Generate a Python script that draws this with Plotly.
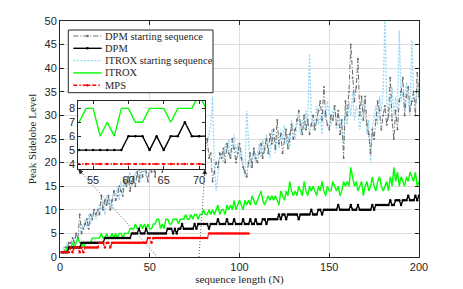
import plotly.graph_objects as go

# ---------------- data ----------------
N = list(range(1, 201))

dpm_start = [
    1, 1, 2, 2, 3, 3, 4, 3, 5, 4,
    9, 5, 6, 7, 8, 6, 9, 8, 10, 9,
    10, 9, 13, 10, 12, 11, 13, 10, 12, 14,
    12, 13, 15, 14, 13, 16, 15, 17, 14, 16,
    17, 15, 18, 16, 19, 17, 20, 18, 16, 19,
    18, 20, 17, 21, 19, 22, 18, 20, 21, 19,
    22, 20, 23, 21, 24, 20, 22, 25, 21, 23,
    24, 22, 26, 23, 21, 25, 27, 22, 24, 26,
    23, 25, 21, 22, 16, 18, 20, 19, 22, 21,
    23, 20, 24, 22, 21, 25, 23, 20, 22, 24,
    21, 19, 18, 17, 20, 22, 19, 23, 21, 20,
    22, 24, 21, 23, 25, 22, 26, 24, 27, 23,
    29, 24, 26, 22, 25, 27, 23, 26, 28, 25,
    27, 29, 31, 28, 26, 30, 27, 29, 26, 28,
    30, 27, 29, 31, 33, 29, 36, 30, 28, 27,
    30, 29, 32, 28, 31, 26, 29, 21, 33, 30,
    35, 45, 38, 33, 36, 42, 30, 34, 29, 34,
    28, 26, 22, 27, 25, 29, 33, 31, 27, 30,
    32, 28, 30, 38, 29, 25, 31, 27, 33, 35,
    38, 30, 34, 36, 31, 33, 35, 30, 39, 34,
]

dpm = [
    1, 1, 1, 1, 2, 2, 2, 2, 2, 2,
    2, 3, 3, 3, 3, 3, 3, 3, 3, 3,
    3, 3, 3, 3, 4, 4, 4, 4, 4, 4,
    4, 4, 4, 4, 4, 4, 4, 4, 4, 5,
    5, 5, 5, 6, 5, 5, 5, 6, 5, 5,
    5, 5, 5, 5, 5, 5, 5, 5, 5, 6,
    6, 6, 5, 6, 5, 6, 6, 7, 6, 6,
    6, 6, 6, 6, 7, 6, 7, 7, 7, 7,
    7, 7, 6, 7, 7, 7, 7, 8, 7, 7,
    7, 7, 8, 7, 7, 7, 8, 7, 7, 7,
    7, 8, 7, 7, 7, 8, 7, 7, 8, 7,
    7, 7, 8, 8, 7, 8, 8, 8, 8, 8,
    8, 9, 8, 9, 9, 8, 9, 9, 9, 9,
    9, 9, 8, 9, 9, 9, 9, 9, 9, 10,
    9, 9, 9, 10, 10, 9, 10, 10, 10, 10,
    10, 10, 10, 10, 11, 10, 10, 10, 10, 10,
    10, 11, 10, 10, 10, 11, 10, 10, 10, 10,
    10, 10, 10, 11, 10, 11, 11, 11, 11, 11,
    11, 11, 11, 12, 11, 11, 12, 12, 12, 11,
    12, 12, 12, 13, 12, 12, 12, 13, 12, 13,
]

itrox_start = [
    1, 2, 2, 3, 2, 3, 3, 4, 4, 5,
    5, 7, 6, 8, 6, 9, 7, 8, 10, 8,
    9, 11, 10, 12, 9, 13, 11, 12, 10, 14,
    13, 15, 12, 16, 14, 17, 15, 16, 18, 15,
    16, 18, 17, 19, 16, 20, 18, 17, 21, 19,
    20, 18, 22, 19, 21, 23, 20, 22, 19, 24,
    21, 23, 20, 25, 22, 24, 21, 26, 23, 25,
    22, 27, 24, 23, 26, 25, 28, 24, 23, 27,
    25, 24, 26, 28, 34, 19, 14, 18, 21, 22,
    20, 24, 22, 25, 21, 23, 26, 22, 24, 21,
    23, 20, 17, 31, 25, 19, 21, 23, 20, 22,
    24, 21, 25, 22, 26, 23, 21, 27, 24, 22,
    26, 23, 27, 25, 28, 24, 26, 23, 29, 27,
    25, 28, 30, 26, 29, 27, 31, 28, 43, 30,
    27, 29, 32, 28, 30, 26, 31, 29, 33, 30,
    28, 31, 32, 27, 30, 29, 26, 24, 31, 28,
    33, 30, 35, 29, 32, 31, 27, 30, 33, 31,
    26, 29, 20, 27, 30, 32, 28, 34, 31, 35,
    50, 33, 29, 32, 36, 30, 34, 31, 48, 33,
    35, 31, 37, 33, 30, 46, 34, 32, 36, 35,
]

itrox = [
    1, 1, 1, 2, 2, 2, 3, 2, 3, 4,
    3, 3, 2, 3, 3, 3, 3, 4, 4, 4,
    4, 4, 5, 4, 4, 5, 4, 4, 5, 4,
    5, 4, 5, 5, 4, 5, 5, 5, 6, 6,
    6, 7, 6, 6, 7, 6, 7, 6, 7, 6,
    6, 7, 7, 8, 8, 6, 7, 6, 8, 8,
    7, 7, 8, 8, 8, 7, 8, 8, 8, 9,
    8, 8, 9, 8, 9, 9, 8, 9, 9, 10,
    9, 9, 10, 9, 10, 9, 10, 11, 9, 10,
    10, 9, 11, 10, 11, 10, 12, 10, 11, 12,
    11, 10, 12, 11, 12, 11, 13, 12, 11, 12,
    13, 14, 12, 11, 12, 13, 12, 13, 12, 13,
    12, 11, 14, 13, 12, 14, 13, 16, 14, 13,
    14, 13, 15, 14, 13, 16, 14, 13, 15, 14,
    15, 14, 13, 15, 14, 16, 14, 13, 15, 14,
    14, 16, 15, 14, 15, 13, 14, 16, 15, 16,
    15, 19, 17, 15, 16, 14, 15, 16, 13, 15,
    16, 14, 15, 17, 15, 14, 16, 17, 15, 14,
    15, 16, 14, 17, 15, 19, 16, 18, 15, 17,
    16, 15, 17, 16, 18, 17, 16, 18, 15, 16,
]

N_mps = list(range(1, 106))
mps = (
    [1, 1, 1, 1, 1, 2, 1, 2, 2, 2, 1, 2, 1]
    + [2] * 8                      # 14-21
    + [3, 3, 3, 2, 3, 3, 2]        # 22-28
    + [3] * 20                     # 29-48
    + [4, 4, 3]                    # 49-51
    + [4] * 31                     # 52-82
    + [5] * 23                     # 83-105
)

legend_names = ["DPM starting sequence", "DPM", "ITROX starting sequence", "ITROX", "MPS"]

x_ticks = [0, 50, 100, 150, 200]
y_ticks = [0, 5, 10, 15, 20, 25, 30, 35, 40, 45, 50]
inset_x_ticks = [55, 60, 65, 70]
inset_y_ticks = [4, 5, 6, 7, 8]

# ---------------- styles ----------------
C_GRAY = "#6a6a6a"
C_BLUE = "#96d8f5"
C_GREEN = "#00ff00"
C_RED = "#ff0000"
C_BLACK = "#000000"
DASH_BLUE = "2px,1.5px"
DASH_GRAY = "5px,2px,1px,2px"
DASH_RED = "4px,2px,1.5px,2px"

fig = go.Figure()

def add_series(xaxis, yaxis):
    fig.add_trace(go.Scatter(x=N, y=itrox_start, mode="lines", xaxis=xaxis, yaxis=yaxis,
                             line=dict(color=C_BLUE, width=1.3, dash=DASH_BLUE), showlegend=False))
    fig.add_trace(go.Scatter(x=N, y=dpm_start, mode="lines+markers", xaxis=xaxis, yaxis=yaxis,
                             line=dict(color=C_GRAY, width=1, dash=DASH_GRAY),
                             marker=dict(size=2, color=C_GRAY), showlegend=False))

def add_main(xaxis, yaxis):
    fig.add_trace(go.Scatter(x=N, y=itrox, mode="lines", xaxis=xaxis, yaxis=yaxis,
                             line=dict(color=C_GREEN, width=1.4), showlegend=False))
    fig.add_trace(go.Scatter(x=N, y=dpm, mode="lines+markers", xaxis=xaxis, yaxis=yaxis,
                             line=dict(color=C_BLACK, width=1.4),
                             marker=dict(size=2.5, color=C_BLACK), showlegend=False))
    fig.add_trace(go.Scatter(x=N_mps, y=mps, mode="lines+markers", xaxis=xaxis, yaxis=yaxis,
                             line=dict(color=C_RED, width=1.4, dash=DASH_RED),
                             marker=dict(size=2.5, color=C_RED), showlegend=False))

add_series("x", "y")
add_main("x", "y")
add_main("x2", "y2")

# ---------------- layout ----------------
W, H = 463, 289
L, R, T, B = 60, 44, 21, 32
pw, ph = W - L - R, H - T - B

def px2paper(px, py):
    return (px - L) / pw, (H - B - py) / ph

tick_font = dict(family="Liberation Sans, Arial, sans-serif", size=11, color="#262626")
serif = "Liberation Serif, Times New Roman, serif"

fig.update_layout(
    width=W, height=H,
    margin=dict(l=L, r=R, t=T, b=B, autoexpand=False),
    paper_bgcolor="white", plot_bgcolor="white",
    showlegend=False,
    xaxis=dict(range=[0, 200], tickvals=x_ticks, ticks="inside", ticklen=4, tickcolor="#262626",
               showline=True, linecolor="#262626", linewidth=1, mirror="ticks",
               showgrid=True, gridcolor="#dedede", gridwidth=1, zeroline=False,
               tickfont=tick_font, automargin=False,
               title=dict(text="sequence length (N)", font=dict(family=serif, size=11, color="#262626"),
                          standoff=2)),
    yaxis=dict(range=[0, 50], tickvals=y_ticks, ticks="inside", ticklen=4, tickcolor="#262626",
               showline=True, linecolor="#262626", linewidth=1, mirror="ticks",
               showgrid=True, gridcolor="#dedede", gridwidth=1, zeroline=False,
               tickfont=tick_font, automargin=False,
               title=dict(text="Peak Sidelobe Level", font=dict(family=serif, size=11, color="#262626"),
                          standoff=5)),
)

ix0, iy0 = px2paper(78.3, 169.3)
ix1, iy1 = px2paper(205, 100.7)
fig.update_layout(
    xaxis2=dict(domain=[ix0, ix1], anchor="y2", range=[52.9, 70.85], tickvals=inset_x_ticks,
                ticks="inside", ticklen=3, tickcolor="#262626", showline=True, linecolor="#262626",
                linewidth=1, mirror="ticks", showgrid=False, zeroline=False, tickfont=tick_font,
                automargin=False),
    yaxis2=dict(domain=[iy0, iy1], anchor="x2", range=[3.62, 8.55], tickvals=inset_y_ticks,
                ticks="inside", ticklen=3, tickcolor="#262626", showline=True, linecolor="#262626",
                linewidth=1, mirror="ticks", showgrid=False, zeroline=False, tickfont=tick_font,
                automargin=False),
)

shapes = []
annotations = []

# dotted connector lines (main-axis coordinates)
shapes.append(dict(type="line", xref="x", yref="y", x0=53.4, y0=0.4, x1=10.2, y1=18.6,
                   line=dict(color="#333333", width=0.8, dash="1px,2px"), layer="above"))
shapes.append(dict(type="line", xref="x", yref="y", x0=77.4, y0=0.0, x1=80.8, y1=18.6,
                   line=dict(color="#333333", width=0.8, dash="1px,2px"), layer="above"))
annotations.append(dict(x=10.2, y=18.6, xref="x", yref="y", ax=5.5, ay=6.2, axref="pixel", ayref="pixel",
                        showarrow=True, arrowhead=2, arrowsize=1.2, arrowwidth=0.8, arrowcolor="#222222", text=""))
annotations.append(dict(x=80.8, y=18.6, xref="x", yref="y", ax=-0.5, ay=8, axref="pixel", ayref="pixel",
                        showarrow=True, arrowhead=2, arrowsize=1.2, arrowwidth=0.8, arrowcolor="#222222", text=""))

# manual legend
lx0, ly0 = px2paper(68.3, 92.7)
lx1, ly1 = px2paper(213, 30)
shapes.append(dict(type="rect", xref="paper", yref="paper", x0=lx0, y0=ly0, x1=lx1, y1=ly1,
                   line=dict(color="#262626", width=1), fillcolor="white", layer="above"))
rows_py = [36.0, 48.3, 60.6, 72.9, 85.2]
styles = [
    (C_GRAY, 1, DASH_GRAY),
    (C_BLACK, 1.4, "solid"),
    (C_BLUE, 1.3, DASH_BLUE),
    (C_GREEN, 1.4, "solid"),
    (C_RED, 1.4, DASH_RED),
]
sx0, _ = px2paper(73.3, 0)
sx1, _ = px2paper(101.7, 0)
tx, _ = px2paper(103.3, 0)
for name, py, (col, wdt, dsh) in zip(legend_names, rows_py, styles):
    _, yy = px2paper(0, py)
    shapes.append(dict(type="line", xref="paper", yref="paper", x0=sx0, x1=sx1, y0=yy, y1=yy,
                       line=dict(color=col, width=wdt, dash=dsh), layer="above"))
    annotations.append(dict(x=tx, y=yy, xref="paper", yref="paper", text=name, showarrow=False,
                            xanchor="left", yanchor="middle",
                            font=dict(family=serif, size=10.5, color="#262626")))
for i in (0, 1, 4):
    _, yy = px2paper(0, rows_py[i])
    cx = (sx0 + sx1) / 2
    col = styles[i][0]
    shapes.append(dict(type="circle", xref="paper", yref="paper",
                       x0=cx - 1.3 / pw, x1=cx + 1.3 / pw, y0=yy - 1.3 / ph, y1=yy + 1.3 / ph,
                       fillcolor=col, line=dict(color=col, width=0), layer="above"))

fig.update_layout(shapes=shapes, annotations=annotations)

fig.write_html("out.html", config={"displayModeBar": False},
               post_script="document.body.style.margin='0';document.body.style.overflow='hidden';")
